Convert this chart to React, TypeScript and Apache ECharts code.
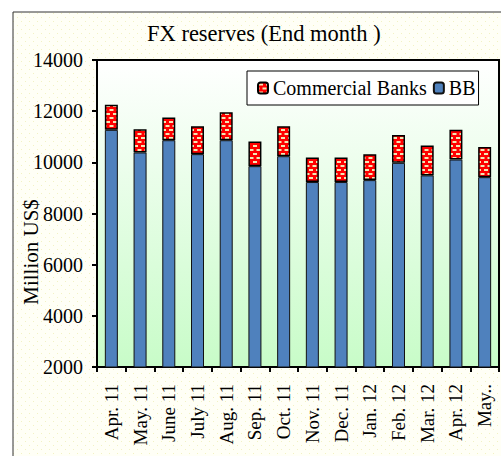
import React, { useEffect, useRef } from "react";
import * as echarts from "echarts";

const categories = [
  "Apr. 11", "May. 11", "June 11", "July 11", "Aug. 11", "Sep. 11", "Oct. 11",
  "Nov. 11", "Dec. 11", "Jan. 12", "Feb. 12", "Mar. 12", "Apr. 12", "May..",
];
const bbValues = [11270, 10385, 10865, 10320, 10865, 9850, 10240, 9230, 9230, 9305, 9980, 9490, 10110, 9420];
const commercialValues = [980, 910, 890, 1095, 1095, 965, 1175, 960, 960, 1015, 1085, 1170, 1160, 1175];
const yTicks = { min: 2000, max: 14000, interval: 2000 };
const titleText = "FX reserves (End month )";
const yTitle = "Million US$";
const seriesNames = ["Commercial Banks", "BB"];

function makeCanvas(w: number, h: number, bg: string, draw: (ctx: CanvasRenderingContext2D) => void) {
  const c = document.createElement("canvas");
  c.width = w;
  c.height = h;
  const ctx = c.getContext("2d")!;
  ctx.fillStyle = bg;
  ctx.fillRect(0, 0, w, h);
  draw(ctx);
  return c;
}

export default function App() {
  const ref = useRef<HTMLDivElement>(null);
  useEffect(() => {
    document.body.style.margin = "0";
    if (!ref.current) return;
    const chart = echarts.init(ref.current, undefined, { renderer: "svg" });
    const serif = "Liberation Serif";

    const redTile = makeCanvas(7, 8, "#ff0000", (ctx) => {
      ctx.fillStyle = "#f2e6b4";
      ctx.fillRect(1, 1, 4, 2);
      ctx.fillRect(4.5, 5, 4, 2);
      ctx.fillRect(-2.5, 5, 4, 2);
    });
    const bgTile = makeCanvas(8, 8, "#fffff6", (ctx) => {
      ctx.fillStyle = "#f2f2c4";
      ctx.fillRect(1, 1, 1, 1);
      ctx.fillRect(5, 5, 1, 1);
    });
    const redPattern: any = { image: redTile, repeat: "repeat", imageWidth: 7, imageHeight: 8 };
    const bgPattern: any = { image: bgTile, repeat: "repeat", imageWidth: 8, imageHeight: 8 };

    chart.setOption({
      animation: false,
      backgroundColor: "#ffffff",
      title: {
        text: titleText,
        left: 147,
        top: 22,
        padding: 0,
        textStyle: { fontSize: 22.5, fontFamily: serif, fontWeight: "normal", color: "#000" },
      },
      graphic: [
        {
          type: "rect",
          z: -10,
          silent: true,
          shape: { x: 13, y: 12, width: 700, height: 700 },
          style: { fill: bgPattern, stroke: "#333", lineWidth: 1 },
        },
        {
          type: "text",
          x: 31,
          y: 252,
          rotation: Math.PI / 2,
          style: {
            text: yTitle,
            font: `21px "${serif}"`,
            align: "center",
            verticalAlign: "middle",
            fill: "#000",
          },
        },
      ],
      legend: {
        data: seriesNames,
        left: 247,
        top: 71,
        padding: [7, 3, 7, 10],
        itemGap: 6,
        itemWidth: 10,
        itemHeight: 11,
        borderColor: "#000",
        borderWidth: 1,
        backgroundColor: "#fff",
        textStyle: { fontSize: 20, fontFamily: serif, color: "#000" },
      },
      grid: {
        left: 97,
        top: 60,
        right: 2,
        bottom: 89,
        show: true,
        borderColor: "#000",
        borderWidth: 2,
        backgroundColor: {
          type: "linear",
          x: 0, y: 0, x2: 0, y2: 1,
          colorStops: [
            { offset: 0, color: "#ffffff" },
            { offset: 1, color: "#c8fcc8" },
          ],
        },
      },
      xAxis: {
        type: "category",
        data: categories,
        axisLine: { lineStyle: { color: "#000", width: 2 } },
        axisTick: { show: true, length: 5, lineStyle: { color: "#000", width: 2 }, interval: 0 },
        axisLabel: {
          rotate: 90,
          interval: 0,
          margin: 17,
          fontSize: 19,
          fontFamily: serif,
          color: "#000",
        },
      },
      yAxis: {
        type: "value",
        min: yTicks.min,
        max: yTicks.max,
        interval: yTicks.interval,
        splitLine: { show: false },
        axisLine: { show: true, lineStyle: { color: "#000", width: 2 } },
        axisTick: { show: true, length: 5, lineStyle: { color: "#000", width: 2 } },
        axisLabel: {
          fontSize: 20,
          fontFamily: serif,
          color: "#000",
          margin: 14,
          formatter: (v: number) => String(v),
        },
      },
      series: [
        {
          name: seriesNames[1],
          type: "bar",
          stack: "total",
          barWidth: 13,
          data: bbValues,
          itemStyle: { color: "#4f81bd", borderColor: "#111", borderWidth: 1 },
        },
        {
          name: seriesNames[0],
          type: "bar",
          stack: "total",
          barWidth: 13,
          data: commercialValues,
          itemStyle: { color: redPattern, borderColor: "#000", borderWidth: 1.5 },
        },
      ],
    });
    return () => chart.dispose();
  }, []);
  return <div ref={ref} style={{ width: 501, height: 456 }} />;
}
